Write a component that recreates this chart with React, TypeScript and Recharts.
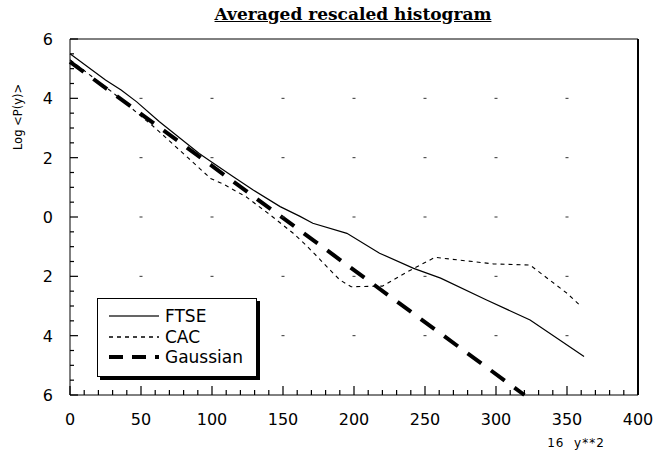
import { LineChart, Line, XAxis, YAxis } from 'recharts';

// values
const FTSE_X = [0, 25, 36, 47, 63, 91, 101, 115, 129, 148, 162, 171, 195, 218, 242, 261, 293, 324, 362];
const FTSE_Y = [5.5, 4.62, 4.28, 3.88, 3.21, 2.14, 1.81, 1.36, 0.91, 0.35, 0.02, -0.21, -0.55, -1.22, -1.73, -2.06, -2.79, -3.47, -4.7];

const CAC_X = [0, 30, 60, 83, 99, 108, 124, 141, 157, 166, 174, 183, 190, 198, 220, 239, 257, 298, 324, 333, 350, 360];
const CAC_Y = [5.3, 4.2, 3.0, 2.0, 1.3, 1.11, 0.68, 0.07, -0.54, -0.94, -1.33, -1.78, -2.12, -2.35, -2.33, -1.81, -1.36, -1.58, -1.62, -1.95, -2.57, -3.02];

const GAUSS_X = [0, 320];
const GAUSS_Y = [5.23, -6];

const X_LABELS = [0, 50, 100, 150, 200, 250, 300, 350, 400];
const Y_LABELS = [-6, -4, -2, 0, 2, 4, 6];
const GRID_Y = [-4, -2, 0, 2, 4];

const X_TICKS = Array.from({ length: 41 }, (_, i) => i * 10);
const Y_TICKS = Array.from({ length: 25 }, (_, i) => -6 + i * 0.5);

const ftse = FTSE_X.map((x, i) => ({ x, y: FTSE_Y[i] }));
const cac = CAC_X.map((x, i) => ({ x, y: CAC_Y[i] }));
const gauss = GAUSS_X.map((x, i) => ({ x, y: GAUSS_Y[i] }));

const FONT = '"DejaVu Sans", Verdana, sans-serif';
const PLOT_W = 568; // 655 - 70 - 17
const GRID_STEP = PLOT_W / (X_LABELS.length - 1);

// inward tick marks, drawn as filled rects
const BottomTick = (props: any) => {
  const x = Number(props.x);
  const y = Number(props.y);
  const v = props.payload.value;
  const major = X_LABELS.includes(v);
  return (
    <g>
      {major ? (
        <rect x={x - 0.6} y={y - 9} width={1.2} height={9} fill="#000" />
      ) : (
        <rect x={x - 0.6} y={y - 5} width={1.2} height={5} fill="#000" />
      )}
      {major && (
        <text x={x} y={y + 30} textAnchor="middle" fontSize={16} fontFamily={FONT} fill="#000">
          {v}
        </text>
      )}
    </g>
  );
};

const TopTick = (props: any) => {
  const x = Number(props.x);
  const y = Number(props.y);
  const major = X_LABELS.includes(props.payload.value);
  return (
    <g>
      {major ? (
        <rect x={x - 0.6} y={y} width={1.2} height={8} fill="#000" />
      ) : (
        <rect x={x - 0.6} y={y} width={1.2} height={4} fill="#000" />
      )}
      <text x={x} y={y - 6} fontSize={1} fill="#fff"> </text>
    </g>
  );
};

const LeftTick = (props: any) => {
  const x = Number(props.x);
  const y = Number(props.y);
  const v = props.payload.value;
  const major = Y_LABELS.includes(v);
  return (
    <g>
      {major ? (
        <rect x={x} y={y - 0.6} width={8} height={1.2} fill="#000" />
      ) : (
        <rect x={x} y={y - 0.6} width={4} height={1.2} fill="#000" />
      )}
      {GRID_Y.includes(v) &&
        X_LABELS.slice(1, -1).map((_, k) => (
          <rect key={k} x={x + (k + 1) * GRID_STEP - 1.5} y={y - 0.5} width={3} height={1} fill="#333" />
        ))}
      {major && (
        <text x={x - 17} y={y + 6} textAnchor="end" fontSize={16} fontFamily={FONT} fill="#000">
          {Math.abs(v)}
        </text>
      )}
    </g>
  );
};

const RightTick = (props: any) => {
  const x = Number(props.x);
  const y = Number(props.y);
  const major = Y_LABELS.includes(props.payload.value);
  return (
    <g>
      {major ? (
        <rect x={x - 8} y={y - 0.6} width={8} height={1.2} fill="#000" />
      ) : (
        <rect x={x - 4} y={y - 0.6} width={4} height={1.2} fill="#000" />
      )}
    </g>
  );
};

function LegendBox() {
  return (
    <div
      style={{
        position: 'absolute',
        left: 97,
        top: 298,
        width: 158,
        height: 77,
        border: '1.5px solid #000',
        boxShadow: '3px 3px 0 #000',
        background: '#fff',
      }}
    >
      <svg width={158} height={77} style={{ display: 'block' }}>
        <rect x={11} y={16.4} width={50} height={1.2} fill="#000" />
        <line x1={11} x2={61} y1={38} y2={38} stroke="#000" strokeWidth={1.5} strokeDasharray="4 4" />
        <line x1={11} x2={61} y1={58} y2={58} stroke="#000" strokeWidth={4} strokeDasharray="14 9" />
        <text x={67} y={23} fontSize={17} fontFamily={FONT}>FTSE</text>
        <text x={67} y={44} fontSize={17} fontFamily={FONT}>CAC</text>
        <text x={67} y={64} fontSize={17} fontFamily={FONT}>Gaussian</text>
      </svg>
    </div>
  );
}

export default function App() {
  return (
    <div style={{ position: 'absolute', left: 0, top: 0, width: 655, height: 455, background: '#fff' }}>
      <LineChart width={655} height={455} margin={{ top: 0, right: 0, bottom: 0, left: 0 }}>
        <XAxis
          xAxisId="b"
          dataKey="x"
          type="number"
          domain={[0, 400]}
          ticks={X_TICKS}
          interval={0}
          height={60}
          tickSize={0}
          tickMargin={0}
          tick={BottomTick}
          axisLine={{ stroke: '#000' }}
        />
        <XAxis
          xAxisId="t"
          orientation="top"
          dataKey="x"
          type="number"
          domain={[0, 400]}
          ticks={X_TICKS}
          interval={0}
          height={39}
          tickSize={0}
          tickMargin={0}
          tick={TopTick}
          axisLine={{ stroke: '#000' }}
        />
        <YAxis
          yAxisId="l"
          type="number"
          domain={[-6, 6]}
          ticks={Y_TICKS}
          interval={0}
          width={70}
          tickSize={0}
          tickMargin={0}
          tick={LeftTick}
          axisLine={{ stroke: '#000' }}
        />
        <YAxis
          yAxisId="r"
          orientation="right"
          type="number"
          domain={[-6, 6]}
          ticks={Y_TICKS}
          interval={0}
          width={17}
          tickSize={0}
          tickMargin={0}
          tick={RightTick}
          axisLine={{ stroke: '#000', strokeWidth: 2 }}
        />
        <Line
          xAxisId="b"
          yAxisId="l"
          data={gauss}
          dataKey="y"
          stroke="#000"
          strokeWidth={4}
          strokeDasharray="17 12"
          dot={false}
          isAnimationActive={false}
        />
        <Line
          xAxisId="b"
          yAxisId="l"
          data={cac}
          dataKey="y"
          stroke="#000"
          strokeWidth={1.1}
          strokeDasharray="4 4"
          dot={false}
          isAnimationActive={false}
        />
        <Line
          xAxisId="b"
          yAxisId="l"
          data={ftse}
          dataKey="y"
          stroke="#000"
          strokeWidth={1.2}
          dot={false}
          isAnimationActive={false}
        />
      </LineChart>
      <div
        style={{
          position: 'absolute',
          left: 353,
          top: 4,
          transform: 'translateX(-50%)',
          whiteSpace: 'nowrap',
          fontFamily: '"DejaVu Serif", "Liberation Serif", serif',
          fontWeight: 'bold',
          fontSize: 17,
          lineHeight: '20px',
          textDecoration: 'underline',
        }}
      >
        Averaged rescaled histogram
      </div>
      <div
        style={{
          position: 'absolute',
          left: 18,
          top: 117,
          transform: 'translate(-50%, -50%) rotate(-90deg)',
          whiteSpace: 'nowrap',
          fontFamily: FONT,
          fontSize: 11.5,
        }}
      >
        {'Log <P(y)>'}
      </div>
      <div
        style={{
          position: 'absolute',
          left: 576,
          top: 436,
          transform: 'translateX(-50%)',
          whiteSpace: 'pre',
          fontFamily: FONT,
          fontSize: 12,
          letterSpacing: 1,
        }}
      >
        {'16  y**2'}
      </div>
      <LegendBox />
    </div>
  );
}
